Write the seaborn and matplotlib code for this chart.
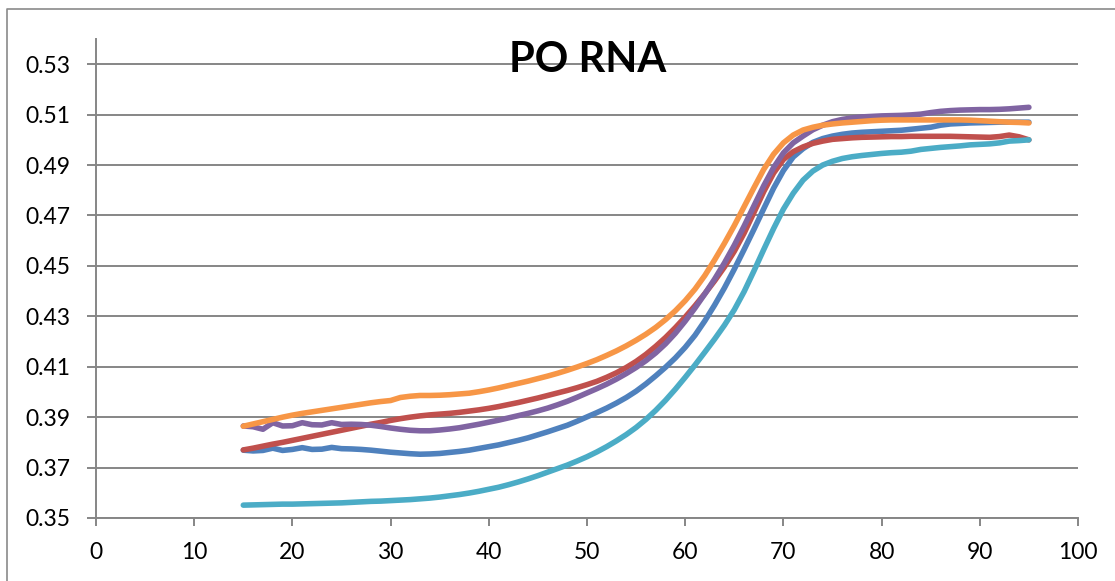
import matplotlib
matplotlib.use("Agg")
import matplotlib.pyplot as plt
from matplotlib.lines import Line2D
import seaborn as sns
import pandas as pd

# Melting temperature (°C) and absorbance readings for five samples
temps = list(range(15, 96))

blue = [
    0.3769, 0.3766, 0.3768, 0.3777, 0.3768, 0.3772, 0.3779, 0.3772, 0.3773, 0.3780,  # 15-24
    0.3775, 0.3774, 0.3772, 0.3769, 0.3765, 0.3761, 0.3758, 0.3755, 0.3753, 0.3754,  # 25-34
    0.3756, 0.3760, 0.3764, 0.3769, 0.3776, 0.3783, 0.3790, 0.3799, 0.3808, 0.3818,  # 35-44
    0.3830, 0.3842, 0.3855, 0.3868, 0.3884, 0.3901, 0.3918, 0.3936, 0.3956, 0.3978,  # 45-54
    0.4003, 0.4032, 0.4064, 0.4098, 0.4135, 0.4177, 0.4225, 0.4282, 0.4345, 0.4413,  # 55-64
    0.4487, 0.4565, 0.4645, 0.4727, 0.4808, 0.4878, 0.4932, 0.4965, 0.4990, 0.5005,  # 65-74
    0.5015, 0.5022, 0.5027, 0.5030, 0.5032, 0.5034, 0.5036, 0.5038, 0.5042, 0.5046,  # 75-84
    0.5050, 0.5058, 0.5063, 0.5065, 0.5067, 0.5068, 0.5069, 0.5070, 0.5070, 0.5070,  # 85-94
    0.5070,                                                                          # 95
]
red = [
    0.3770, 0.3777, 0.3785, 0.3793, 0.3800, 0.3808, 0.3816, 0.3824, 0.3832, 0.3840,
    0.3848, 0.3856, 0.3864, 0.3872, 0.3879, 0.3887, 0.3894, 0.3900, 0.3905, 0.3909,
    0.3912, 0.3915, 0.3919, 0.3924, 0.3929, 0.3935, 0.3942, 0.3950, 0.3958, 0.3967,
    0.3976, 0.3986, 0.3996, 0.4006, 0.4017, 0.4029, 0.4042, 0.4058, 0.4076, 0.4097,
    0.4121, 0.4149, 0.4181, 0.4216, 0.4255, 0.4297, 0.4342, 0.4390, 0.4441, 0.4496,
    0.4558, 0.4630, 0.4712, 0.4795, 0.4868, 0.4922, 0.4953, 0.4972, 0.4986, 0.4995,
    0.5002, 0.5005, 0.5008, 0.5010, 0.5011, 0.5012, 0.5013, 0.5013, 0.5014, 0.5014,
    0.5014, 0.5014, 0.5014, 0.5013, 0.5012, 0.5011, 0.5010, 0.5013, 0.5019, 0.5012,
    0.5000,
]
purple = [
    0.3865, 0.3862, 0.3852, 0.3878, 0.3865, 0.3866, 0.3878, 0.3870, 0.3869, 0.3878,
    0.3871, 0.3872, 0.3871, 0.3868, 0.3863, 0.3857, 0.3852, 0.3848, 0.3846, 0.3846,
    0.3849, 0.3853, 0.3858, 0.3865, 0.3872, 0.3880, 0.3888, 0.3897, 0.3906, 0.3915,
    0.3925, 0.3936, 0.3949, 0.3963, 0.3979, 0.3996, 0.4013, 0.4031, 0.4051, 0.4073,
    0.4097, 0.4124, 0.4155, 0.4191, 0.4233, 0.4281, 0.4333, 0.4389, 0.4448, 0.4512,
    0.4582, 0.4658, 0.4738, 0.4818, 0.4890, 0.4948, 0.4988, 0.5015, 0.5040, 0.5058,
    0.5072, 0.5081, 0.5087, 0.5091, 0.5093, 0.5095, 0.5096, 0.5097, 0.5099, 0.5102,
    0.5108, 0.5113, 0.5116, 0.5118, 0.5119, 0.5120, 0.5120, 0.5121, 0.5123, 0.5126,
    0.5129,
]
cyan = [
    0.3551, 0.3552, 0.3553, 0.3554, 0.3555, 0.3555, 0.3556, 0.3557, 0.3558, 0.3559,
    0.3560, 0.3562, 0.3564, 0.3566, 0.3567, 0.3569, 0.3571, 0.3573, 0.3576, 0.3579,
    0.3583, 0.3588, 0.3593, 0.3599, 0.3606, 0.3614, 0.3622, 0.3632, 0.3643, 0.3655,
    0.3668, 0.3682, 0.3696, 0.3710, 0.3726, 0.3743, 0.3762, 0.3783, 0.3806, 0.3831,
    0.3859, 0.3891, 0.3927, 0.3967, 0.4011, 0.4058, 0.4107, 0.4158, 0.4210, 0.4265,
    0.4326, 0.4398, 0.4480, 0.4565, 0.4648, 0.4725, 0.4788, 0.4840, 0.4876, 0.4900,
    0.4915, 0.4926, 0.4933, 0.4938, 0.4942, 0.4946, 0.4949, 0.4951, 0.4955, 0.4962,
    0.4966, 0.4970, 0.4973, 0.4976, 0.4980, 0.4982, 0.4984, 0.4988, 0.4995, 0.4997,
    0.5000,
]
orange = [
    0.3864, 0.3873, 0.3882, 0.3891, 0.3900, 0.3908, 0.3915, 0.3921, 0.3927, 0.3933,
    0.3939, 0.3945, 0.3951, 0.3957, 0.3962, 0.3966, 0.3978, 0.3983, 0.3986, 0.3986,
    0.3987, 0.3989, 0.3992, 0.3995, 0.4001, 0.4008, 0.4016, 0.4025, 0.4034, 0.4043,
    0.4053, 0.4063, 0.4074, 0.4086, 0.4099, 0.4113, 0.4128, 0.4145, 0.4163, 0.4183,
    0.4205, 0.4229, 0.4256, 0.4287, 0.4322, 0.4362, 0.4408, 0.4462, 0.4524, 0.4590,
    0.4660, 0.4735, 0.4810, 0.4883, 0.4943, 0.4988, 0.5019, 0.5039, 0.5050, 0.5058,
    0.5063, 0.5067, 0.5070, 0.5073, 0.5076, 0.5078, 0.5079, 0.5079, 0.5079, 0.5079,
    0.5079, 0.5079, 0.5079, 0.5079, 0.5078, 0.5076, 0.5074, 0.5072, 0.5070, 0.5069,
    0.5067,
]

series = {"S1": blue, "S2": red, "S3": purple, "S4": cyan, "S5": orange}
colors = {"S1": "#4F81BD", "S2": "#C0504D", "S3": "#8064A2", "S4": "#4BACC6", "S5": "#F79646"}

x_ticks = [0, 10, 20, 30, 40, 50, 60, 70, 80, 90, 100]
y_ticks = [0.35, 0.37, 0.39, 0.41, 0.43, 0.45, 0.47, 0.49, 0.51, 0.53]
title = "PO RNA"

frames = []
for name, vals in series.items():
    assert len(vals) == len(temps)
    frames.append(pd.DataFrame({"temp": temps, "value": vals, "sample": name}))
df = pd.concat(frames, ignore_index=True)

sns.set_style("white")
plt.rcParams["font.family"] = ["Lato", "DejaVu Sans"]

W, H = 1115, 581
fig = plt.figure(figsize=(W / 100, H / 100), dpi=100)
ax = fig.add_axes([96 / W, 1 - 518 / H, (1078 - 96) / W, (518 - 39) / H])

grid_c = "#868686"
sns.lineplot(data=df, x="temp", y="value", hue="sample", palette=colors,
             hue_order=list(series.keys()), linewidth=4.0, legend=False,
             sort=False, ax=ax, solid_capstyle="round", solid_joinstyle="round",
             zorder=3)

ax.set_xlim(0, 100)
ax.set_ylim(0.35, 0.54)
ax.set_xticks(x_ticks)
ax.set_yticks(y_ticks)
ax.set_xticklabels([str(v) for v in x_ticks])
ax.set_yticklabels([f"{v:.2f}" for v in y_ticks])
ax.set_xlabel("")
ax.set_ylabel("")

ax.grid(axis="y", color=grid_c, linewidth=1.4, zorder=1)
ax.grid(axis="x", visible=False)
ax.set_axisbelow(True)
for side in ("top", "right"):
    ax.spines[side].set_visible(False)
for side in ("left", "bottom"):
    ax.spines[side].set_color(grid_c)
    ax.spines[side].set_linewidth(1.4)

ax.tick_params(axis="y", direction="out", length=6.5, width=1.4, color=grid_c,
               pad=12, labelsize=16.5, labelcolor="black", left=True)
ax.tick_params(axis="x", direction="out", length=6, width=1.4, color=grid_c,
               pad=11, labelsize=16.5, labelcolor="black", bottom=True)

fig.text(587.5 / W, 1 - 71.7 / H, title, ha="center", va="baseline",
         fontsize=30, fontweight="bold", color="black")

# Chart-area border (left and top edges)
frame_c = "#8a8a8a"
fig.add_artist(Line2D([7 / W, 7 / W, 1.0], [0.0, 1 - 9 / H, 1 - 9 / H],
                      transform=fig.transFigure, color=frame_c, linewidth=1.2))

fig.savefig("out.png", dpi=100)
